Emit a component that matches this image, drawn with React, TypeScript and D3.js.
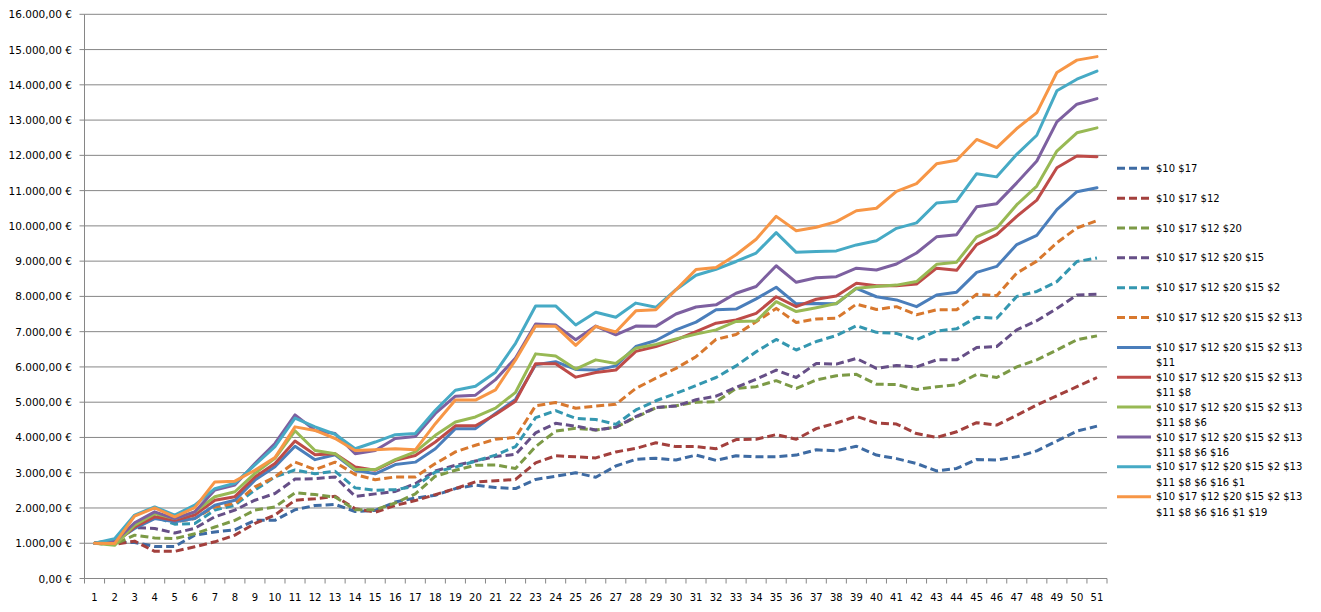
import React from "react";
import * as d3 from "d3";

const periods: number[] = d3.range(1, 52);
const yTicks: number[] = d3.range(0, 16001, 1000);

const seriesNames: string[] = [
  "$10 $17",
  "$10 $17 $12",
  "$10 $17 $12 $20",
  "$10 $17 $12 $20 $15",
  "$10 $17 $12 $20 $15 $2",
  "$10 $17 $12 $20 $15 $2 $13",
  "$10 $17 $12 $20 $15 $2 $13 $11",
  "$10 $17 $12 $20 $15 $2 $13 $11 $8",
  "$10 $17 $12 $20 $15 $2 $13 $11 $8 $6",
  "$10 $17 $12 $20 $15 $2 $13 $11 $8 $6 $16",
  "$10 $17 $12 $20 $15 $2 $13 $11 $8 $6 $16 $1",
  "$10 $17 $12 $20 $15 $2 $13 $11 $8 $6 $16 $1 $19",
];

const s1 = [1000, 1020, 1020, 910, 910, 1230, 1320, 1380, 1650, 1650, 1950, 2070, 2100, 1900, 1930, 2170, 2280, 2360, 2550, 2650, 2580, 2550, 2810, 2900, 3000, 2870, 3190, 3380, 3410, 3360, 3500, 3350, 3480, 3450, 3450, 3500, 3650, 3620, 3750, 3500, 3400, 3260, 3050, 3120, 3375, 3360, 3450, 3620, 3900, 4180, 4320];
const s2 = [1000, 970, 1060, 770, 770, 900, 1040, 1230, 1560, 1800, 2220, 2260, 2330, 1980, 1880, 2070, 2210, 2380, 2550, 2740, 2770, 2810, 3280, 3480, 3450, 3420, 3590, 3690, 3850, 3740, 3740, 3680, 3940, 3950, 4080, 3950, 4250, 4410, 4600, 4410, 4380, 4110, 4000, 4160, 4420, 4350, 4630, 4920, 5180, 5440, 5700];
const s3 = [1000, 970, 1230, 1150, 1130, 1270, 1460, 1650, 1940, 2030, 2430, 2380, 2310, 1950, 1950, 2140, 2400, 2900, 3070, 3210, 3220, 3120, 3740, 4180, 4260, 4210, 4290, 4570, 4840, 4900, 5000, 5010, 5390, 5440, 5610, 5390, 5630, 5750, 5790, 5510, 5500, 5360, 5440, 5490, 5790, 5700, 6000, 6200, 6480, 6770, 6880];
const s4 = [1000, 1040, 1440, 1420, 1290, 1420, 1750, 1940, 2220, 2410, 2820, 2830, 2880, 2330, 2400, 2470, 2690, 3050, 3210, 3330, 3460, 3520, 4130, 4400, 4320, 4210, 4290, 4590, 4850, 4890, 5070, 5170, 5420, 5650, 5910, 5700, 6100, 6080, 6240, 5960, 6040, 6000, 6200, 6200, 6550, 6580, 7050, 7310, 7660, 8040, 8060];
const s5 = [1000, 1100, 1560, 1750, 1540, 1560, 1940, 2080, 2510, 2880, 3080, 2970, 3040, 2570, 2500, 2520, 2610, 3020, 3160, 3330, 3500, 3740, 4560, 4760, 4540, 4510, 4370, 4780, 5040, 5250, 5470, 5700, 6030, 6430, 6780, 6480, 6720, 6890, 7170, 6980, 6950, 6770, 7020, 7080, 7410, 7380, 8000, 8140, 8420, 8990, 9090];
const s6 = [1000, 1040, 1460, 1840, 1610, 1700, 2030, 2130, 2600, 2880, 3300, 3090, 3300, 2950, 2800, 2880, 2880, 3260, 3590, 3780, 3950, 4000, 4900, 4990, 4830, 4890, 4940, 5390, 5680, 5960, 6290, 6780, 6920, 7280, 7660, 7260, 7360, 7380, 7780, 7630, 7710, 7480, 7620, 7620, 8060, 8020, 8660, 9000, 9520, 9940, 10150];
const s7 = [1000, 1040, 1420, 1700, 1610, 1700, 2080, 2220, 2790, 3170, 3750, 3370, 3510, 3070, 2970, 3230, 3300, 3680, 4250, 4250, 4680, 5080, 6060, 6150, 5930, 5910, 6030, 6580, 6750, 7050, 7270, 7620, 7640, 7930, 8260, 7790, 7800, 7790, 8230, 7990, 7900, 7710, 8040, 8120, 8680, 8850, 9470, 9730, 10460, 10970, 11080];
const s8 = [1000, 1000, 1460, 1750, 1650, 1800, 2220, 2320, 2880, 3260, 3900, 3510, 3540, 3160, 3070, 3350, 3490, 3870, 4330, 4330, 4650, 5030, 6090, 6090, 5710, 5840, 5910, 6440, 6580, 6770, 7000, 7240, 7330, 7520, 7990, 7710, 7920, 8010, 8370, 8300, 8300, 8350, 8800, 8740, 9470, 9750, 10270, 10730, 11650, 11980, 11960];
const s9 = [1000, 940, 1510, 1840, 1700, 1890, 2320, 2460, 2980, 3410, 4190, 3630, 3540, 3090, 3090, 3370, 3590, 4060, 4440, 4580, 4830, 5280, 6370, 6310, 5940, 6200, 6100, 6530, 6640, 6790, 6930, 7050, 7290, 7300, 7850, 7570, 7680, 7800, 8230, 8280, 8320, 8420, 8910, 8970, 9690, 9940, 10600, 11130, 12120, 12640, 12780];
const s10 = [1000, 1040, 1580, 1890, 1700, 1890, 2510, 2650, 3260, 3830, 4640, 4200, 4110, 3540, 3630, 3970, 4030, 4680, 5170, 5200, 5640, 6250, 7220, 7190, 6770, 7160, 6910, 7160, 7150, 7500, 7700, 7760, 8090, 8280, 8870, 8400, 8530, 8560, 8800, 8750, 8920, 9230, 9690, 9750, 10540, 10630, 11220, 11840, 12950, 13450, 13610];
const s11 = [1000, 1130, 1800, 2030, 1800, 2080, 2550, 2700, 3220, 3740, 4550, 4300, 4090, 3680, 3870, 4080, 4110, 4770, 5340, 5450, 5850, 6670, 7730, 7730, 7190, 7550, 7410, 7810, 7690, 8190, 8600, 8770, 8990, 9230, 9810, 9250, 9270, 9290, 9460, 9580, 9930, 10085, 10650, 10700, 11480, 11390, 12030, 12570, 13830, 14160, 14390];
const s12 = [1000, 990, 1770, 2000, 1750, 2010, 2740, 2760, 3070, 3430, 4300, 4200, 3970, 3630, 3650, 3680, 3650, 4390, 5060, 5060, 5350, 6200, 7160, 7150, 6610, 7150, 6990, 7590, 7620, 8190, 8760, 8820, 9180, 9620, 10270, 9860, 9960, 10120, 10430, 10500, 10980, 11200, 11760, 11860, 12450, 12220, 12760, 13210, 14350, 14700, 14800];

const seriesValues: number[][] = [s1, s2, s3, s4, s5, s6, s7, s8, s9, s10, s11, s12];

const seriesColors: string[] = [
  "#3E6BA3", "#A3403D", "#7C9A46", "#664F87", "#3497B0", "#D8782E",
  "#4A7EBB", "#BE4B48", "#98B954", "#7D60A0", "#46AAC5", "#F79646",
];
const seriesDashed: boolean[] = [true, true, true, true, true, true, false, false, false, false, false, false];

const W = 1321;
const H = 612;
const plotLeft = 84.5;
const plotRight = 1107;
const plotTop = 14.3;
const plotBottom = 578.5;
const gridColor = "#868686";
const font = "'DejaVu Sans', Verdana, sans-serif";

function fmtEuro(v: number): string {
  const s = d3.format(",.2f")(v);
  return s.replace(/,/g, "#").replace(/\./g, ",").replace(/#/g, ".") + " €";
}

function wrapLegend(name: string): string[] {
  const parts = name.split(" ");
  if (parts.length <= 7) return [name];
  return [parts.slice(0, 7).join(" "), parts.slice(7).join(" ")];
}

export default function App() {
  const x = d3.scaleBand<number>().domain(periods).range([plotLeft, plotRight]).padding(0);
  const y = d3.scaleLinear().domain([0, 16000]).range([plotBottom, plotTop]);
  const cx = (p: number) => (x(p) as number) + x.bandwidth() / 2;

  const line = d3
    .line<number>()
    .x((_, i) => cx(periods[i]))
    .y((v) => y(v));

  const legendX0 = 1117;
  const legendX1 = 1151;
  const legendY0 = 168.3;
  const legendStep = 29.85;

  const boundaries = d3.range(0, periods.length + 1).map((k) => plotLeft + k * x.bandwidth());

  return (
    <svg
      width={W}
      height={H}
      style={{ position: "absolute", left: 0, top: 0, background: "#fff" }}
      fontFamily={font}
    >
      <rect x={0} y={0} width={W} height={H} fill="#fff" />
      {yTicks.map((t) => (
        <g key={t}>
          <line x1={plotLeft} x2={plotRight} y1={y(t)} y2={y(t)} stroke={gridColor} strokeWidth={1} />
          <line x1={plotLeft - 5} x2={plotLeft} y1={y(t)} y2={y(t)} stroke={gridColor} strokeWidth={1} />
          <text x={72} y={y(t) + 4} fontSize={10.5} textAnchor="end" fill="#000">
            {fmtEuro(t)}
          </text>
        </g>
      ))}
      <line x1={plotLeft} x2={plotLeft} y1={plotTop} y2={plotBottom} stroke={gridColor} strokeWidth={1} />
      {boundaries.map((b, i) => (
        <line key={i} x1={b} x2={b} y1={plotBottom} y2={plotBottom + 5} stroke={gridColor} strokeWidth={1} />
      ))}
      {periods.map((p) => (
        <text key={p} x={cx(p)} y={601} fontSize={10} textAnchor="middle" fill="#000">
          {p}
        </text>
      ))}
      {seriesValues.map((vals, si) => (
        <path
          key={si}
          d={line(vals) || ""}
          fill="none"
          stroke={seriesColors[si]}
          strokeWidth={3}
          strokeLinejoin="round"
          strokeLinecap={seriesDashed[si] ? "butt" : "round"}
          strokeDasharray={seriesDashed[si] ? "8,4" : undefined}
        />
      ))}
      {seriesNames.map((name, si) => {
        const ly = legendY0 + si * legendStep;
        const lines = wrapLegend(name);
        return (
          <g key={si}>
            <line
              x1={legendX0}
              x2={legendX1}
              y1={ly}
              y2={ly}
              stroke={seriesColors[si]}
              strokeWidth={3}
              strokeDasharray={seriesDashed[si] ? "8,4" : undefined}
            />
            {lines.map((t, li) => (
              <text key={li} x={1156} y={ly + 3.6 + li * 15.3} fontSize={10} fill="#000">
                {t}
              </text>
            ))}
          </g>
        );
      })}
    </svg>
  );
}
